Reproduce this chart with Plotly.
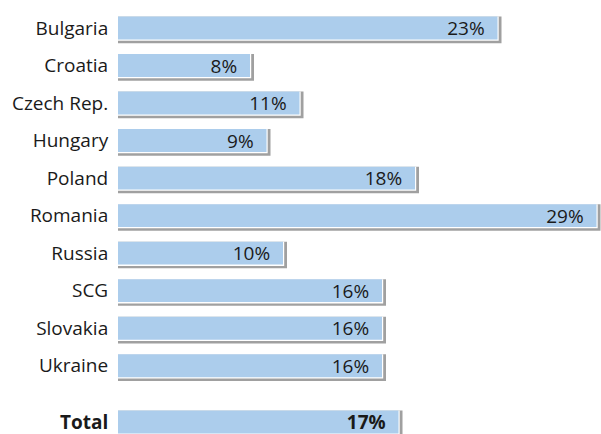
import plotly.graph_objects as go

categories = ["Bulgaria", "Croatia", "Czech Rep.", "Hungary", "Poland", "Romania",
              "Russia", "SCG", "Slovakia", "Ukraine", "Total"]
values = [23, 8, 11, 9, 18, 29, 10, 16, 16, 16, 17]
positions = [0, 1, 2, 3, 4, 5, 6, 7, 8, 9, 10.5]
bold_flags = [False] * 10 + [True]

PX_PER_UNIT = 16.5
def px(n):
    return n / PX_PER_UNIT

labels = [("<b>%d%%</b>" if b else "%d%%") % v + "\u00a0\u00a0" for v, b in zip(values, bold_flags)]
ticktext = ["<b>%s</b>" % c if b else c for c, b in zip(categories, bold_flags)]

FONT = "Open Sans"
FS = 19
W = 0.61
fig = go.Figure()
# shadow
fig.add_trace(go.Bar(y=positions, x=[v + px(4) for v in values], orientation="h",
                     width=W + 0.1, offset=-W / 2, marker=dict(color="#a0a0a0", line_width=0),
                     hoverinfo="skip", cliponaxis=False))
# white gap
fig.add_trace(go.Bar(y=positions, x=[v + px(1.2) for v in values], orientation="h",
                     width=W + 0.035, offset=-W / 2, marker=dict(color="#ffffff", line_width=0),
                     hoverinfo="skip", cliponaxis=False))
# main bars
fig.add_trace(go.Bar(y=positions, x=values, orientation="h",
                     width=W, offset=-W / 2, marker=dict(color="#accdec", line_width=0),
                     text=labels, textposition="inside", insidetextanchor="end",
                     textangle=0, constraintext="none",
                     textfont=dict(family=FONT, size=FS, color="#1a1a1a"),
                     cliponaxis=False))

fig.update_layout(
    width=601, height=434,
    margin=dict(l=118, r=0, t=0, b=0, autoexpand=False),
    barmode="overlay",
    showlegend=False,
    plot_bgcolor="white", paper_bgcolor="white",
    font=dict(family=FONT, size=FS, color="#1a1a1a"),
    xaxis=dict(range=[0, 483 / PX_PER_UNIT], visible=False, fixedrange=True, automargin=False),
    yaxis=dict(range=[10.82, -0.746], tickmode="array", tickvals=positions, ticktext=ticktext,
               showgrid=False, zeroline=False, showline=False, automargin=False,
               ticks="outside", ticklen=5, tickcolor="rgba(0,0,0,0)",
               ticklabeloverflow="allow",
               tickfont=dict(family=FONT, size=FS, color="#1a1a1a")),
    uniformtext=dict(mode=False),
)

fig.write_html("out.html", config={"displayModeBar": False},
               post_script="document.body.style.margin='0';document.body.style.overflow='hidden';")
